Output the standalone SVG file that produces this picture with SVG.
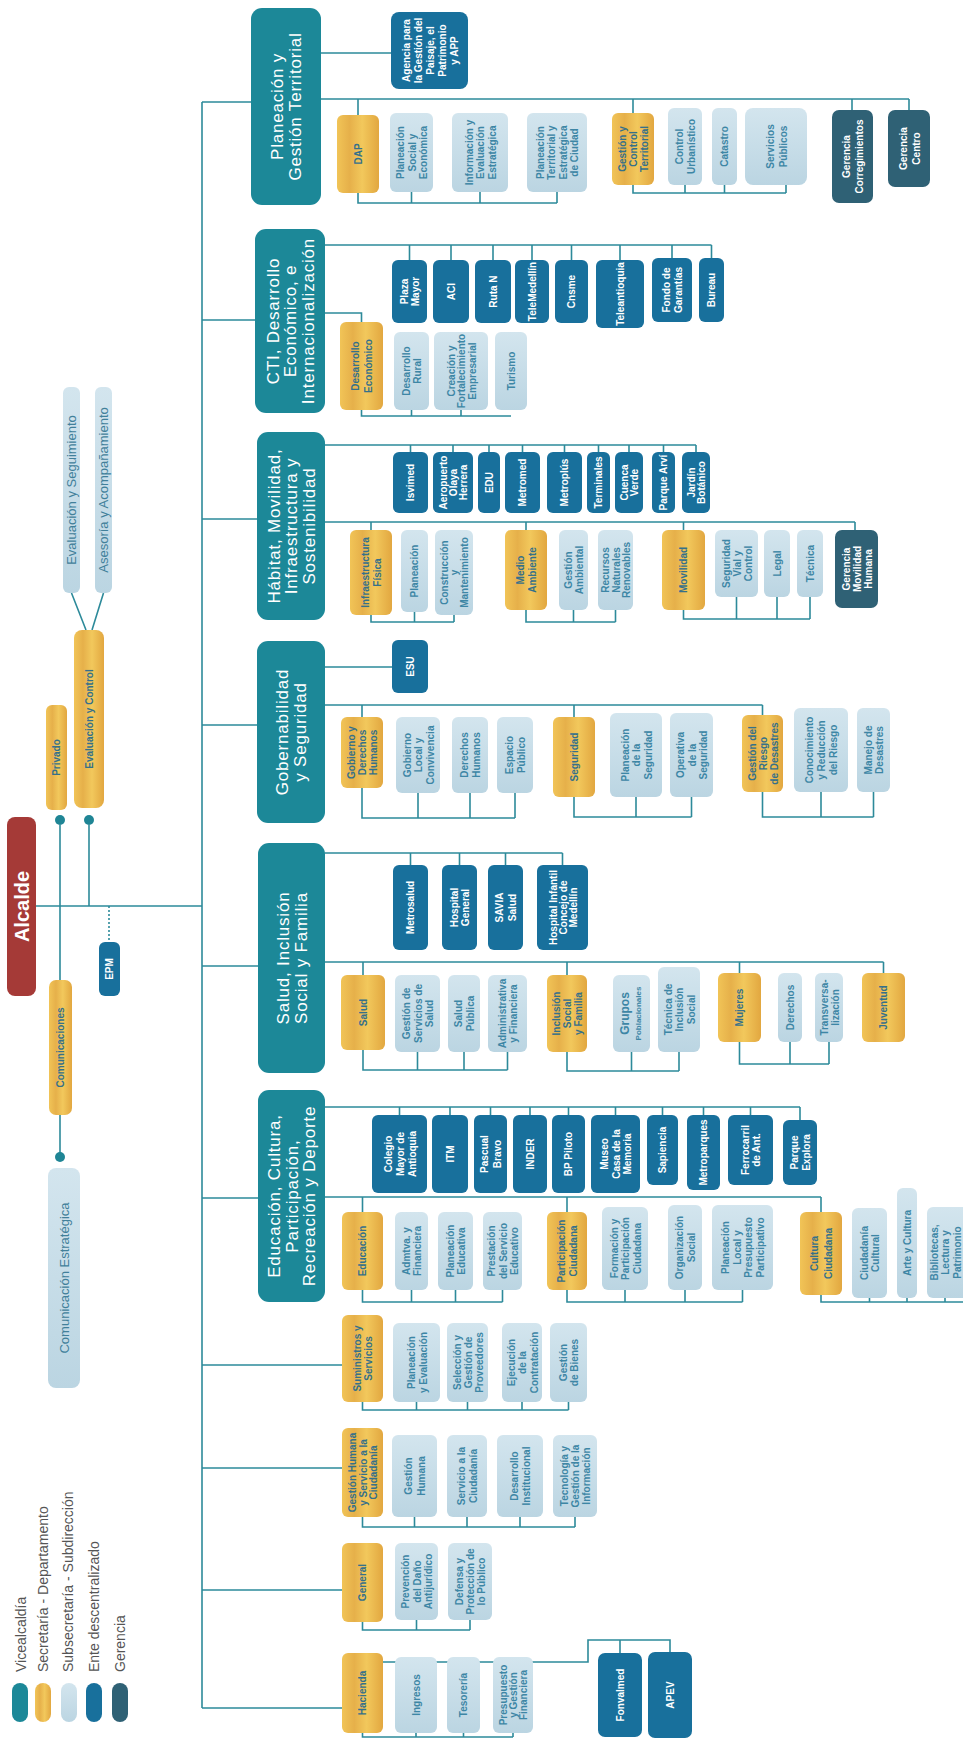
<svg xmlns="http://www.w3.org/2000/svg" width="963" height="1741" viewBox="0 0 963 1741">
<defs>
<linearGradient id="gold" x1="0" y1="0" x2="1" y2="0">
<stop offset="0" stop-color="#f1c457"/><stop offset="0.3" stop-color="#e6b04a"/><stop offset="0.6" stop-color="#f2c85c"/><stop offset="1" stop-color="#e2a740"/>
</linearGradient>
<linearGradient id="lt" x1="0" y1="0" x2="0" y2="1">
<stop offset="0" stop-color="#d3e5ee"/><stop offset="1" stop-color="#bbd5e2"/>
</linearGradient>
<style>
.ln{fill:none;stroke:#2d8a9a;stroke-width:1.6}
.v{fill:#1c8898}
.s{fill:url(#gold)}
.u{fill:url(#lt)}
.e{fill:#18709c}
.g{fill:#2f6175}
.dot{fill:#1f8595}
text{font-family:"Liberation Sans",Arial,Helvetica,sans-serif;text-anchor:middle;dominant-baseline:central}
tspan{dominant-baseline:central}
.vt{fill:#fff;font-size:17px;letter-spacing:0.8px}
.st{fill:#35708a;font-weight:bold;font-size:10px}
.ut{fill:#3d86a5;font-weight:bold;font-size:10px}
.et{fill:#fff;font-weight:bold;font-size:10px}
.lg{fill:#555;font-size:14px;text-anchor:start}
.tl{fill:#41809a;font-size:13px}
</style>
</defs>
<rect width="963" height="1741" fill="#fff"/>

<g id="connectors" class="ln">
<path d="M202 102V1708M202 102H251M202 320H255M202 519H257M202 725H257M202 966H258M202 1198H258M202 1365H342M202 1468H342M202 1590H342M202 1708H342"/>
<path d="M36 906H202M60 825V980M60 1115V1157M89 825V906M86 630L71.5 593M92 630L103.5 593"/>
<path d="M109 906V942" stroke-dasharray="2 2"/>
<path d="M320 53H391M320 99H909M358 99V115M633 99V113M852 99V110M909 99V110"/>
<path d="M358 193V203H557M411.5 192V203M480 192V203M557 192V203M633 185V193H786M685 185V193M724.5 185V193M786 185V193"/>
<path d="M325 245H711.5M409.5 245V260M451 245V260M493 245V260M532 245V260M571.5 245V260M620 245V260M672 245V258M711.5 245V258"/>
<path d="M325 313H361.5V322M361.5 410V416H511M411.5 410V416M461 410V416"/>
<path d="M325 445H696M410.5 445V452M453 445V452M489 445V452M522.5 445V452M564.5 445V452M598.5 445V452M629 445V452M663.5 445V452M696 445V452"/>
<path d="M325 522H855M371 522V530M526 522V530M683.5 522V530M855 522V530"/>
<path d="M371 615V622H454M414.5 612V622M454 615V622M526 610V622H615.5M573.5 610V622M615.5 610V622M683.5 610V619H810M736.5 597V619M777 597V619M810 597V619"/>
<path d="M325 667H392M325 705H762.5M362 705V717M574 705V717M762.5 705V715"/>
<path d="M362 788V818H515M418 793V818M470 793V818M515 793V818M574 797V817H691.5M636 797V817M691.5 797V817M762.5 792V817H873.5M821 792V817M873.5 792V817"/>
<path d="M325 853H562.5M410.5 853V865M459.5 853V865M505.5 853V865M562.5 853V865"/>
<path d="M325 962H883.5M363 962V975M567 962V975M739.5 962V973M883.5 962V973"/>
<path d="M363 1050V1070H507.5M417.5 1052V1070M464 1052V1070M507.5 1052V1070M567 1052V1071H679M631.5 1052V1071M679 1052V1071M739.5 1042V1064H829M790 1042V1064M829 1042V1064"/>
<path d="M325 1107H800M399.5 1107V1115M450 1107V1115M490.5 1107V1115M530 1107V1115M568.5 1107V1115M615.5 1107V1115M662.5 1107V1115M703.5 1107V1115M750.5 1107V1115M800 1107V1120"/>
<path d="M325 1197H821M362.5 1197V1212M567 1197V1212M821 1197V1212"/>
<path d="M362.5 1290V1302H502.5M411.5 1290V1302M455.5 1290V1302M502.5 1290V1302M567 1290V1302H742.5M625 1290V1302M685 1290V1302M742.5 1290V1302M821 1295V1302H965M869.5 1298V1302M907 1298V1302M945 1298V1302"/>
<path d="M362.5 1402V1410H568.5M416.5 1402V1410M467.5 1402V1410M522 1402V1410M568.5 1402V1410"/>
<path d="M362.5 1517V1527H575M414.5 1517V1527M467 1517V1527M520 1517V1527M575 1517V1527"/>
<path d="M362.5 1622V1630H470M416.5 1620V1630M470 1620V1630"/>
<path d="M362.5 1733V1737H513M416 1733V1737M463.5 1733V1737M513 1733V1737"/>
<path d="M383 1662H588V1640H670V1652M620 1640V1653"/>
</g>

<g id="legend">
<rect x="12" y="1683" width="16" height="39" rx="8" class="v"/>
<rect x="35" y="1683" width="16" height="39" rx="8" class="s"/>
<rect x="61" y="1683" width="16" height="39" rx="8" class="u"/>
<rect x="86" y="1683" width="16" height="39" rx="8" class="e"/>
<rect x="112" y="1683" width="16" height="39" rx="8" class="g"/>
<text class="lg" transform="rotate(-90 21 1672)" x="21" y="1672">Vicealcaldía</text>
<text class="lg" transform="rotate(-90 43 1672)" x="43" y="1672">Secretaría - Departamento</text>
<text class="lg" transform="rotate(-90 68 1672)" x="68" y="1672">Subsecretaría - Subdirección</text>
<text class="lg" transform="rotate(-90 94 1672)" x="94" y="1672">Ente descentralizado</text>
<text class="lg" transform="rotate(-90 120 1672)" x="120" y="1672">Gerencia</text>
</g>

<g id="n-alcalde"><rect x="7" y="817" width="29" height="179" rx="8" fill="#a53a37"/><text transform="rotate(-90 21.5 906.5)" x="21.5" y="906.5" fill="#fff" font-weight="bold" font-size="20">Alcalde</text></g>
<g id="n-privado"><rect class="s" x="46" y="705" width="21" height="105" rx="6"/><text class="st" transform="rotate(-90 56.5 757.5)" x="56.5" y="757.5" font-size="12">Privado</text></g>
<g id="n-evalcontrol"><rect class="s" x="74" y="630" width="30" height="178" rx="8"/><text class="st" transform="rotate(-90 89 719)" x="89" y="719" font-size="12.5">Evaluación y Control</text></g>
<g id="n-evalseg"><rect class="u" x="63" y="387" width="17" height="206" rx="6"/><text class="tl" transform="rotate(-90 71.5 490)" x="71.5" y="490">Evaluación y Seguimiento</text></g>
<g id="n-asesoria"><rect class="u" x="95" y="387" width="17" height="206" rx="6"/><text class="tl" transform="rotate(-90 103.5 490)" x="103.5" y="490">Asesoría y Acompañamiento</text></g>
<g id="n-comunicaciones"><rect class="s" x="49" y="980" width="23" height="135" rx="7"/><text class="st" transform="rotate(-90 60.5 1047.5)" x="60.5" y="1047.5" font-size="12">Comunicaciones</text></g>
<g id="n-comestrategica"><rect class="u" x="48" y="1168" width="32" height="220" rx="8"/><text class="tl" transform="rotate(-90 64 1278)" x="64" y="1278" font-size="13.5">Comunicación Estratégica</text></g>
<g id="n-epm"><rect class="e" x="99" y="942" width="21" height="54" rx="6"/><text class="et" transform="rotate(-90 109.5 969)" x="109.5" y="969">EPM</text></g>
<circle class="dot" cx="60" cy="820" r="5"/>
<circle class="dot" cx="89" cy="820" r="5"/>
<circle class="dot" cx="60" cy="1157" r="5"/>

<g id="v-planeacion"><rect class="v" x="251" y="8" width="70" height="197" rx="11"/><text class="vt" transform="rotate(-90 286 106.5)"><tspan x="286" y="97.5">Planeación y</tspan><tspan x="286" dy="18">Gestión Territorial</tspan></text></g>
<g id="v-cti"><rect class="v" x="255" y="229" width="70" height="184" rx="11"/><text class="vt" transform="rotate(-90 290 321)"><tspan x="290" y="303.5">CTI, Desarrollo</tspan><tspan x="290" dy="17.5">Económico, e</tspan><tspan x="290" dy="17.5">Internacionalización</tspan></text></g>
<g id="v-habitat"><rect class="v" x="257" y="432" width="68" height="188" rx="11"/><text class="vt" transform="rotate(-90 291 526)"><tspan x="291" y="508.5">Hábitat, Movilidad,</tspan><tspan x="291" dy="17.5">Infraestructura y</tspan><tspan x="291" dy="17.5">Sostenibilidad</tspan></text></g>
<g id="v-gobernabilidad"><rect class="v" x="257" y="641" width="68" height="182" rx="11"/><text class="vt" transform="rotate(-90 291 732)"><tspan x="291" y="723">Gobernabilidad</tspan><tspan x="291" dy="18">y Seguridad</tspan></text></g>
<g id="v-salud"><rect class="v" x="258" y="843" width="67" height="230" rx="11"/><text class="vt" transform="rotate(-90 291.5 958)"><tspan x="291.5" y="949">Salud, Inclusión</tspan><tspan x="291.5" dy="18">Social y Familia</tspan></text></g>
<g id="v-educacion"><rect class="v" x="258" y="1090" width="67" height="212" rx="11"/><text class="vt" transform="rotate(-90 291.5 1196)"><tspan x="291.5" y="1178.5">Educación, Cultura,</tspan><tspan x="291.5" dy="17.5">Participación,</tspan><tspan x="291.5" dy="17.5">Recreación y Deporte</tspan></text></g>

<!-- Section 1 -->
<g id="n-agencia"><rect class="e" x="391" y="12" width="77" height="77" rx="8"/><text class="et" font-size="9" transform="rotate(-90 429.5 50.5)"><tspan x="429.5" y="26.5">Agencia para</tspan><tspan x="429.5" dy="12">la Gestión del</tspan><tspan x="429.5" dy="12">Paisaje, el</tspan><tspan x="429.5" dy="12">Patrimonio</tspan><tspan x="429.5" dy="12">y APP</tspan></text></g>
<g id="n-dap"><rect class="s" x="337" y="115" width="42" height="78" rx="6"/><text class="st" font-size="14" transform="rotate(-90 358 154)" x="358" y="154">DAP</text></g>
<g id="n-plansocial"><rect class="u" x="390" y="113" width="43" height="79" rx="6"/><text class="ut" transform="rotate(-90 411.5 152.5)"><tspan x="411.5" y="141">Planeación</tspan><tspan x="411.5" dy="11.5">Social y</tspan><tspan x="411.5" dy="11.5">Económica</tspan></text></g>
<g id="n-informacion"><rect class="u" x="452" y="113" width="56" height="79" rx="6"/><text class="ut" transform="rotate(-90 480 152.5)"><tspan x="480" y="141">Información y</tspan><tspan x="480" dy="11.5">Evaluación</tspan><tspan x="480" dy="11.5">Estratégica</tspan></text></g>
<g id="n-planterritorial"><rect class="u" x="527" y="113" width="60" height="79" rx="6"/><text class="ut" transform="rotate(-90 557 152.5)"><tspan x="557" y="135.25">Planeación</tspan><tspan x="557" dy="11.5">Territorial y</tspan><tspan x="557" dy="11.5">Estratégica</tspan><tspan x="557" dy="11.5">de Ciudad</tspan></text></g>
<g id="n-gestioncontrol"><rect class="s" x="612" y="113" width="42" height="72" rx="6"/><text class="st" font-size="9.5" transform="rotate(-90 633 149)"><tspan x="633" y="138">Gestión y</tspan><tspan x="633" dy="11">Control</tspan><tspan x="633" dy="11">Territorial</tspan></text></g>
<g id="n-controlurb"><rect class="u" x="668" y="108" width="34" height="77" rx="6"/><text class="ut" transform="rotate(-90 685 146.5)"><tspan x="685" y="140.75">Control</tspan><tspan x="685" dy="11.5">Urbanístico</tspan></text></g>
<g id="n-catastro"><rect class="u" x="712" y="108" width="25" height="77" rx="6"/><text class="ut" transform="rotate(-90 724.5 146.5)" x="724.5" y="146.5">Catastro</text></g>
<g id="n-servpublicos"><rect class="u" x="745" y="108" width="62" height="77" rx="8"/><text class="ut" font-size="11" transform="rotate(-90 776 146.5)"><tspan x="776" y="140">Servicios</tspan><tspan x="776" dy="13">Públicos</tspan></text></g>
<g id="n-gercorreg"><rect class="g" x="832" y="110" width="41" height="93" rx="7"/><text class="et" font-size="10.5" transform="rotate(-90 852.5 156.5)"><tspan x="852.5" y="150">Gerencia</tspan><tspan x="852.5" dy="13">Corregimientos</tspan></text></g>
<g id="n-gercentro"><rect class="g" x="888" y="110" width="42" height="77" rx="7"/><text class="et" font-size="11" transform="rotate(-90 909 148.5)"><tspan x="909" y="142">Gerencia</tspan><tspan x="909" dy="13">Centro</tspan></text></g>

<!-- Section 2 -->
<g id="n-plazamayor"><rect class="e" x="392" y="260" width="35" height="63" rx="6"/><text class="et" transform="rotate(-90 409.5 291.5)"><tspan x="409.5" y="285.75">Plaza</tspan><tspan x="409.5" dy="11.5">Mayor</tspan></text></g>
<g id="n-aci"><rect class="e" x="433" y="260" width="36" height="63" rx="6"/><text class="et" transform="rotate(-90 451 291.5)" x="451" y="291.5">ACI</text></g>
<g id="n-rutan"><rect class="e" x="475" y="260" width="36" height="63" rx="6"/><text class="et" transform="rotate(-90 493 291.5)" x="493" y="291.5">Ruta N</text></g>
<g id="n-telemedellin"><rect class="e" x="515" y="260" width="34" height="63" rx="6"/><text class="et" font-size="8.5" transform="rotate(-90 532 291.5)" x="532" y="291.5">TeleMedellín</text></g>
<g id="n-cnsme"><rect class="e" x="555" y="260" width="33" height="63" rx="6"/><text class="et" transform="rotate(-90 571.5 291.5)" x="571.5" y="291.5">Cnsme</text></g>
<g id="n-teleantioquia"><rect class="e" x="596" y="260" width="48" height="68" rx="6"/><text class="et" font-size="8" transform="rotate(-90 620 294)" x="620" y="294">Teleantioquia</text></g>
<g id="n-fondogarantias"><rect class="e" x="652" y="258" width="40" height="64" rx="6"/><text class="et" transform="rotate(-90 672 290)"><tspan x="672" y="284.25">Fondo de</tspan><tspan x="672" dy="11.5">Garantías</tspan></text></g>
<g id="n-bureau"><rect class="e" x="699" y="258" width="25" height="64" rx="6"/><text class="et" transform="rotate(-90 711.5 290)" x="711.5" y="290">Bureau</text></g>
<g id="n-deseconomico"><rect class="s" x="340" y="322" width="43" height="88" rx="6"/><text class="st" font-size="11" transform="rotate(-90 361.5 366)"><tspan x="361.5" y="359.5">Desarrollo</tspan><tspan x="361.5" dy="13">Económico</tspan></text></g>
<g id="n-desrural"><rect class="u" x="394" y="332" width="35" height="78" rx="6"/><text class="ut" transform="rotate(-90 411.5 371)"><tspan x="411.5" y="365.25">Desarrollo</tspan><tspan x="411.5" dy="11.5">Rural</tspan></text></g>
<g id="n-creacion"><rect class="u" x="434" y="332" width="54" height="78" rx="6"/><text class="ut" font-size="8.5" transform="rotate(-90 461 371)"><tspan x="461" y="360.5">Creación y</tspan><tspan x="461" dy="10.5">Fortalecimiento</tspan><tspan x="461" dy="10.5">Empresarial</tspan></text></g>
<g id="n-turismo"><rect class="u" x="495" y="332" width="32" height="78" rx="6"/><text class="ut" transform="rotate(-90 511 371)" x="511" y="371">Turismo</text></g>

<!-- Section 3 -->
<g id="n-isvimed"><rect class="e" x="393" y="452" width="35" height="61" rx="6"/><text class="et" transform="rotate(-90 410.5 482.5)" x="410.5" y="482.5">Isvimed</text></g>
<g id="n-aeropuerto"><rect class="e" x="433" y="452" width="40" height="61" rx="6"/><text class="et" font-size="8.5" transform="rotate(-90 453 482.5)"><tspan x="453" y="472.5">Aeropuerto</tspan><tspan x="453" dy="10">Olaya</tspan><tspan x="453" dy="10">Herrera</tspan></text></g>
<g id="n-edu"><rect class="e" x="478" y="452" width="22" height="61" rx="6"/><text class="et" transform="rotate(-90 489 482.5)" x="489" y="482.5">EDU</text></g>
<g id="n-metromed"><rect class="e" x="505" y="452" width="35" height="61" rx="6"/><text class="et" font-size="9" transform="rotate(-90 522.5 482.5)" x="522.5" y="482.5">Metromed</text></g>
<g id="n-metroplus"><rect class="e" x="547" y="452" width="35" height="61" rx="6"/><text class="et" font-size="9" transform="rotate(-90 564.5 482.5)" x="564.5" y="482.5">Metroplús</text></g>
<g id="n-terminales"><rect class="e" x="587" y="452" width="23" height="61" rx="6"/><text class="et" font-size="8" transform="rotate(-90 598.5 482.5)" x="598.5" y="482.5">Terminales</text></g>
<g id="n-cuencaverde"><rect class="e" x="615" y="452" width="28" height="61" rx="6"/><text class="et" font-size="9" transform="rotate(-90 629 482.5)"><tspan x="629" y="477.25">Cuenca</tspan><tspan x="629" dy="10.5">Verde</tspan></text></g>
<g id="n-parquearvi"><rect class="e" x="652" y="452" width="23" height="61" rx="6"/><text class="et" font-size="8" transform="rotate(-90 663.5 482.5)" x="663.5" y="482.5">Parque Arví</text></g>
<g id="n-jardin"><rect class="e" x="682" y="452" width="28" height="61" rx="6"/><text class="et" font-size="9" transform="rotate(-90 696 482.5)"><tspan x="696" y="477.25">Jardín</tspan><tspan x="696" dy="10.5">Botánico</tspan></text></g>
<g id="n-infraestructura"><rect class="s" x="350" y="530" width="42" height="85" rx="6"/><text class="st" font-size="9" transform="rotate(-90 371 572.5)"><tspan x="371" y="566.5">Infraestructura</tspan><tspan x="371" dy="12">Física</tspan></text></g>
<g id="n-planeacion3"><rect class="u" x="401" y="530" width="27" height="82" rx="6"/><text class="ut" transform="rotate(-90 414.5 571)" x="414.5" y="571">Planeación</text></g>
<g id="n-construccion"><rect class="u" x="435" y="530" width="38" height="85" rx="6"/><text class="ut" font-size="8" transform="rotate(-90 454 572.5)"><tspan x="454" y="562.5">Construcción</tspan><tspan x="454" dy="10">y</tspan><tspan x="454" dy="10">Mantenimiento</tspan></text></g>
<g id="n-medioambiente"><rect class="s" x="505" y="530" width="42" height="80" rx="6"/><text class="st" transform="rotate(-90 526 570)"><tspan x="526" y="564">Medio</tspan><tspan x="526" dy="12">Ambiente</tspan></text></g>
<g id="n-gestionambiental"><rect class="u" x="559" y="530" width="29" height="80" rx="6"/><text class="ut" transform="rotate(-90 573.5 570)"><tspan x="573.5" y="564.5">Gestión</tspan><tspan x="573.5" dy="11">Ambiental</tspan></text></g>
<g id="n-recursos"><rect class="u" x="598" y="530" width="35" height="80" rx="6"/><text class="ut" font-size="9.5" transform="rotate(-90 615.5 570)"><tspan x="615.5" y="559.5">Recursos</tspan><tspan x="615.5" dy="10.5">Naturales</tspan><tspan x="615.5" dy="10.5">Renovables</tspan></text></g>
<g id="n-movilidad"><rect class="s" x="662" y="530" width="43" height="80" rx="6"/><text class="st" font-size="12" transform="rotate(-90 683.5 570)" x="683.5" y="570">Movilidad</text></g>
<g id="n-segvial"><rect class="u" x="715" y="530" width="43" height="67" rx="6"/><text class="ut" transform="rotate(-90 736.5 563.5)"><tspan x="736.5" y="552.5">Seguridad</tspan><tspan x="736.5" dy="11">Vial y</tspan><tspan x="736.5" dy="11">Control</tspan></text></g>
<g id="n-legal"><rect class="u" x="764" y="530" width="26" height="67" rx="6"/><text class="ut" font-size="12" transform="rotate(-90 777 563.5)" x="777" y="563.5">Legal</text></g>
<g id="n-tecnica"><rect class="u" x="797" y="530" width="26" height="67" rx="6"/><text class="ut" font-size="12" transform="rotate(-90 810 563.5)" x="810" y="563.5">Técnica</text></g>
<g id="n-germovilidad"><rect class="g" x="835" y="530" width="43" height="78" rx="7"/><text class="et" transform="rotate(-90 856.5 569)"><tspan x="856.5" y="558">Gerencia</tspan><tspan x="856.5" dy="11">Movilidad</tspan><tspan x="856.5" dy="11">Humana</tspan></text></g>

<!-- Section 4 -->
<g id="n-esu"><rect class="e" x="392" y="640" width="36" height="53" rx="6"/><text class="et" font-size="11" transform="rotate(-90 410 666.5)" x="410" y="666.5">ESU</text></g>
<g id="n-gobiernoddhh"><rect class="s" x="341" y="717" width="42" height="71" rx="6"/><text class="st" font-size="9.5" transform="rotate(-90 362 752.5)"><tspan x="362" y="741.5">Gobierno y</tspan><tspan x="362" dy="11">Derechos</tspan><tspan x="362" dy="11">Humanos</tspan></text></g>
<g id="n-gobiernolocal"><rect class="u" x="396" y="717" width="44" height="76" rx="6"/><text class="ut" transform="rotate(-90 418 755)"><tspan x="418" y="743.5">Gobierno</tspan><tspan x="418" dy="11.5">Local y</tspan><tspan x="418" dy="11.5">Convivencia</tspan></text></g>
<g id="n-derechoshumanos"><rect class="u" x="452" y="717" width="36" height="76" rx="6"/><text class="ut" transform="rotate(-90 470 755)"><tspan x="470" y="749.25">Derechos</tspan><tspan x="470" dy="11.5">Humanos</tspan></text></g>
<g id="n-espaciopublico"><rect class="u" x="497" y="717" width="36" height="76" rx="6"/><text class="ut" transform="rotate(-90 515 755)"><tspan x="515" y="749.25">Espacio</tspan><tspan x="515" dy="11.5">Público</tspan></text></g>
<g id="n-seguridad"><rect class="s" x="553" y="717" width="42" height="80" rx="6"/><text class="st" font-size="12" transform="rotate(-90 574 757)" x="574" y="757">Seguridad</text></g>
<g id="n-planseguridad"><rect class="u" x="610" y="713" width="52" height="84" rx="6"/><text class="ut" transform="rotate(-90 636 755)"><tspan x="636" y="743.5">Planeación</tspan><tspan x="636" dy="11.5">de la</tspan><tspan x="636" dy="11.5">Seguridad</tspan></text></g>
<g id="n-operativa"><rect class="u" x="670" y="713" width="43" height="84" rx="6"/><text class="ut" transform="rotate(-90 691.5 755)"><tspan x="691.5" y="743.5">Operativa</tspan><tspan x="691.5" dy="11.5">de la</tspan><tspan x="691.5" dy="11.5">Seguridad</tspan></text></g>
<g id="n-riesgo"><rect class="s" x="742" y="715" width="41" height="77" rx="6"/><text class="st" font-size="9" transform="rotate(-90 762.5 753.5)"><tspan x="762.5" y="742.5">Gestión del</tspan><tspan x="762.5" dy="11">Riesgo</tspan><tspan x="762.5" dy="11">de Desastres</tspan></text></g>
<g id="n-conocimiento"><rect class="u" x="794" y="708" width="54" height="84" rx="6"/><text class="ut" font-size="10.5" transform="rotate(-90 821 750)"><tspan x="821" y="738">Conocimiento</tspan><tspan x="821" dy="12">y Reducción</tspan><tspan x="821" dy="12">del Riesgo</tspan></text></g>
<g id="n-manejo"><rect class="u" x="857" y="708" width="33" height="84" rx="6"/><text class="ut" transform="rotate(-90 873.5 750)"><tspan x="873.5" y="744.25">Manejo de</tspan><tspan x="873.5" dy="11.5">Desastres</tspan></text></g>

<!-- Section 5 -->
<g id="n-metrosalud"><rect class="e" x="393" y="865" width="35" height="85" rx="6"/><text class="et" font-size="9" transform="rotate(-90 410.5 907.5)" x="410.5" y="907.5">Metrosalud</text></g>
<g id="n-hospgeneral"><rect class="e" x="442" y="865" width="35" height="85" rx="6"/><text class="et" transform="rotate(-90 459.5 907.5)"><tspan x="459.5" y="901.75">Hospital</tspan><tspan x="459.5" dy="11.5">General</tspan></text></g>
<g id="n-savia"><rect class="e" x="488" y="865" width="35" height="85" rx="6"/><text class="et" font-size="11" transform="rotate(-90 505.5 907.5)"><tspan x="505.5" y="901.25">SAVIA</tspan><tspan x="505.5" dy="12.5">Salud</tspan></text></g>
<g id="n-hospinfantil"><rect class="e" x="537" y="865" width="51" height="85" rx="6"/><text class="et" font-size="8" transform="rotate(-90 562.5 907.5)"><tspan x="562.5" y="897.5">Hospital Infantil</tspan><tspan x="562.5" dy="10">Concejo de</tspan><tspan x="562.5" dy="10">Medellín</tspan></text></g>
<g id="n-salud"><rect class="s" x="341" y="975" width="44" height="75" rx="6"/><text class="st" font-size="12" transform="rotate(-90 363 1012.5)" x="363" y="1012.5">Salud</text></g>
<g id="n-gestionservicios"><rect class="u" x="395" y="975" width="45" height="77" rx="6"/><text class="ut" transform="rotate(-90 417.5 1013.5)"><tspan x="417.5" y="1002">Gestión de</tspan><tspan x="417.5" dy="11.5">Servicios de</tspan><tspan x="417.5" dy="11.5">Salud</tspan></text></g>
<g id="n-saludpublica"><rect class="u" x="448" y="975" width="32" height="77" rx="6"/><text class="ut" transform="rotate(-90 464 1013.5)"><tspan x="464" y="1007.75">Salud</tspan><tspan x="464" dy="11.5">Pública</tspan></text></g>
<g id="n-administrativa"><rect class="u" x="488" y="975" width="39" height="77" rx="6"/><text class="ut" font-size="9" transform="rotate(-90 507.5 1013.5)"><tspan x="507.5" y="1008">Administrativa</tspan><tspan x="507.5" dy="11">y Financiera</tspan></text></g>
<g id="n-inclusion"><rect class="s" x="547" y="975" width="40" height="77" rx="6"/><text class="st" transform="rotate(-90 567 1013.5)"><tspan x="567" y="1002.5">Inclusión</tspan><tspan x="567" dy="11">Social</tspan><tspan x="567" dy="11">y Familia</tspan></text></g>
<g id="n-grupos"><rect class="u" x="613" y="975" width="37" height="77" rx="6"/><text class="ut" transform="rotate(-90 631.5 1013.5)"><tspan x="631.5" y="1007" font-size="12">Grupos</tspan><tspan x="631.5" dy="13" font-size="8">Poblacionales</tspan></text></g>
<g id="n-tecnicainclusion"><rect class="u" x="658" y="967" width="42" height="85" rx="6"/><text class="ut" transform="rotate(-90 679 1009.5)"><tspan x="679" y="998">Técnica de</tspan><tspan x="679" dy="11.5">Inclusión</tspan><tspan x="679" dy="11.5">Social</tspan></text></g>
<g id="n-mujeres"><rect class="s" x="718" y="973" width="43" height="69" rx="6"/><text class="st" font-size="12" transform="rotate(-90 739.5 1007.5)" x="739.5" y="1007.5">Mujeres</text></g>
<g id="n-derechos"><rect class="u" x="778" y="973" width="24" height="69" rx="6"/><text class="ut" transform="rotate(-90 790 1007.5)" x="790" y="1007.5">Derechos</text></g>
<g id="n-transversalizacion"><rect class="u" x="815" y="973" width="28" height="69" rx="6"/><text class="ut" transform="rotate(-90 829 1007.5)"><tspan x="829" y="1002">Transversa-</tspan><tspan x="829" dy="11">lización</tspan></text></g>
<g id="n-juventud"><rect class="s" x="862" y="973" width="43" height="69" rx="6"/><text class="st" font-size="12" transform="rotate(-90 883.5 1007.5)" x="883.5" y="1007.5">Juventud</text></g>

<!-- Section 6 -->
<g id="n-colegiomayor"><rect class="e" x="372" y="1115" width="55" height="78" rx="6"/><text class="et" font-size="10.5" transform="rotate(-90 399.5 1154)"><tspan x="399.5" y="1142">Colegio</tspan><tspan x="399.5" dy="12">Mayor de</tspan><tspan x="399.5" dy="12">Antioquia</tspan></text></g>
<g id="n-itm"><rect class="e" x="432" y="1115" width="36" height="78" rx="6"/><text class="et" transform="rotate(-90 450 1154)" x="450" y="1154">ITM</text></g>
<g id="n-pascual"><rect class="e" x="474" y="1115" width="33" height="78" rx="6"/><text class="et" font-size="11" transform="rotate(-90 490.5 1154)"><tspan x="490.5" y="1147.75">Pascual</tspan><tspan x="490.5" dy="12.5">Bravo</tspan></text></g>
<g id="n-inder"><rect class="e" x="513" y="1115" width="34" height="78" rx="6"/><text class="et" transform="rotate(-90 530 1154)" x="530" y="1154">INDER</text></g>
<g id="n-bppiloto"><rect class="e" x="552" y="1115" width="33" height="78" rx="6"/><text class="et" transform="rotate(-90 568.5 1154)" x="568.5" y="1154">BP Piloto</text></g>
<g id="n-museo"><rect class="e" x="591" y="1115" width="49" height="78" rx="6"/><text class="et" transform="rotate(-90 615.5 1154)"><tspan x="615.5" y="1142.5">Museo</tspan><tspan x="615.5" dy="11.5">Casa de la</tspan><tspan x="615.5" dy="11.5">Memoria</tspan></text></g>
<g id="n-sapiencia"><rect class="e" x="647" y="1115" width="31" height="70" rx="6"/><text class="et" transform="rotate(-90 662.5 1150)" x="662.5" y="1150">Sapiencia</text></g>
<g id="n-metroparques"><rect class="e" x="687" y="1115" width="33" height="75" rx="6"/><text class="et" font-size="8" transform="rotate(-90 703.5 1152.5)" x="703.5" y="1152.5">Metroparques</text></g>
<g id="n-ferrocarril"><rect class="e" x="728" y="1115" width="45" height="70" rx="6"/><text class="et" transform="rotate(-90 750.5 1150)"><tspan x="750.5" y="1144.25">Ferrocarril</tspan><tspan x="750.5" dy="11.5">de Ant.</tspan></text></g>
<g id="n-explora"><rect class="e" x="783" y="1120" width="34" height="65" rx="6"/><text class="et" transform="rotate(-90 800 1152.5)"><tspan x="800" y="1146.75">Parque</tspan><tspan x="800" dy="11.5">Explora</tspan></text></g>
<g id="n-educacion"><rect class="s" x="342" y="1212" width="41" height="78" rx="6"/><text class="st" font-size="11" transform="rotate(-90 362.5 1251)" x="362.5" y="1251">Educación</text></g>
<g id="n-admtva"><rect class="u" x="395" y="1212" width="33" height="78" rx="6"/><text class="ut" transform="rotate(-90 411.5 1251)"><tspan x="411.5" y="1245.25">Admtva. y</tspan><tspan x="411.5" dy="11.5">Financiera</tspan></text></g>
<g id="n-planeducativa"><rect class="u" x="438" y="1212" width="35" height="78" rx="6"/><text class="ut" transform="rotate(-90 455.5 1251)"><tspan x="455.5" y="1245.25">Planeación</tspan><tspan x="455.5" dy="11.5">Educativa</tspan></text></g>
<g id="n-prestacion"><rect class="u" x="483" y="1212" width="39" height="78" rx="6"/><text class="ut" transform="rotate(-90 502.5 1251)"><tspan x="502.5" y="1239.5">Prestación</tspan><tspan x="502.5" dy="11.5">del Servicio</tspan><tspan x="502.5" dy="11.5">Educativo</tspan></text></g>
<g id="n-participacion"><rect class="s" x="547" y="1212" width="40" height="78" rx="6"/><text class="st" font-size="9.5" transform="rotate(-90 567 1251)"><tspan x="567" y="1245">Participación</tspan><tspan x="567" dy="12">Ciudadana</tspan></text></g>
<g id="n-formacion"><rect class="u" x="602" y="1207" width="46" height="83" rx="6"/><text class="ut" transform="rotate(-90 625 1248.5)"><tspan x="625" y="1237">Formación y</tspan><tspan x="625" dy="11.5">Participación</tspan><tspan x="625" dy="11.5">Ciudadana</tspan></text></g>
<g id="n-organizacion"><rect class="u" x="668" y="1205" width="34" height="85" rx="6"/><text class="ut" transform="rotate(-90 685 1247.5)"><tspan x="685" y="1241.75">Organización</tspan><tspan x="685" dy="11.5">Social</tspan></text></g>
<g id="n-planlocal"><rect class="u" x="712" y="1205" width="61" height="85" rx="6"/><text class="ut" transform="rotate(-90 742.5 1247.5)"><tspan x="742.5" y="1230.25">Planeación</tspan><tspan x="742.5" dy="11.5">Local y</tspan><tspan x="742.5" dy="11.5">Presupuesto</tspan><tspan x="742.5" dy="11.5">Participativo</tspan></text></g>
<g id="n-cultura"><rect class="s" x="800" y="1212" width="42" height="83" rx="6"/><text class="st" font-size="11" transform="rotate(-90 821 1253.5)"><tspan x="821" y="1246.5">Cultura</tspan><tspan x="821" dy="14">Ciudadana</tspan></text></g>
<g id="n-ciudadaniacultural"><rect class="u" x="852" y="1208" width="35" height="90" rx="6"/><text class="ut" transform="rotate(-90 869.5 1253)"><tspan x="869.5" y="1247.25">Ciudadanía</tspan><tspan x="869.5" dy="11.5">Cultural</tspan></text></g>
<g id="n-arte"><rect class="u" x="897" y="1188" width="20" height="110" rx="6"/><text class="ut" transform="rotate(-90 907 1243)" x="907" y="1243">Arte y Cultura</text></g>
<g id="n-bibliotecas"><rect class="u" x="927" y="1207" width="42" height="91" rx="6"/><text class="ut" transform="rotate(-90 945 1252.5)"><tspan x="945" y="1241">Bibliotecas,</tspan><tspan x="945" dy="11.5">Lectura y</tspan><tspan x="945" dy="11.5">Patrimonio</tspan></text></g>

<!-- Section 7 -->
<g id="n-suministros"><rect class="s" x="342" y="1315" width="41" height="87" rx="6"/><text class="st" font-size="9" transform="rotate(-90 362.5 1358.5)"><tspan x="362.5" y="1352.75">Suministros y</tspan><tspan x="362.5" dy="11.5">Servicios</tspan></text></g>
<g id="n-planevaluacion"><rect class="u" x="393" y="1323" width="47" height="79" rx="6"/><text class="ut" font-size="10.5" transform="rotate(-90 416.5 1362.5)"><tspan x="416.5" y="1356.5">Planeación</tspan><tspan x="416.5" dy="12">y Evaluación</tspan></text></g>
<g id="n-seleccion"><rect class="u" x="447" y="1323" width="41" height="79" rx="6"/><text class="ut" font-size="9.5" transform="rotate(-90 467.5 1362.5)"><tspan x="467.5" y="1351.5">Selección y</tspan><tspan x="467.5" dy="11">Gestión de</tspan><tspan x="467.5" dy="11">Proveedores</tspan></text></g>
<g id="n-ejecucion"><rect class="u" x="502" y="1323" width="40" height="79" rx="6"/><text class="ut" transform="rotate(-90 522 1362.5)"><tspan x="522" y="1351">Ejecución</tspan><tspan x="522" dy="11.5">de la</tspan><tspan x="522" dy="11.5">Contratación</tspan></text></g>
<g id="n-gestionbienes"><rect class="u" x="550" y="1323" width="37" height="79" rx="6"/><text class="ut" transform="rotate(-90 568.5 1362.5)"><tspan x="568.5" y="1356.75">Gestión</tspan><tspan x="568.5" dy="11.5">de Bienes</tspan></text></g>
<g id="n-gestionhumanasec"><rect class="s" x="342" y="1428" width="41" height="89" rx="6"/><text class="st" font-size="8" transform="rotate(-90 362.5 1472.5)"><tspan x="362.5" y="1462">Gestión Humana</tspan><tspan x="362.5" dy="10.5">y Servicio a la</tspan><tspan x="362.5" dy="10.5">Ciudadanía</tspan></text></g>
<g id="n-gestionhumana"><rect class="u" x="392" y="1435" width="45" height="82" rx="6"/><text class="ut" font-size="11" transform="rotate(-90 414.5 1476)"><tspan x="414.5" y="1469.75">Gestión</tspan><tspan x="414.5" dy="12.5">Humana</tspan></text></g>
<g id="n-servicioalaciudadania"><rect class="u" x="447" y="1435" width="40" height="82" rx="6"/><text class="ut" transform="rotate(-90 467 1476)"><tspan x="467" y="1470.25">Servicio a la</tspan><tspan x="467" dy="11.5">Ciudadanía</tspan></text></g>
<g id="n-desinstitucional"><rect class="u" x="497" y="1435" width="46" height="82" rx="6"/><text class="ut" transform="rotate(-90 520 1476)"><tspan x="520" y="1470.25">Desarrollo</tspan><tspan x="520" dy="11.5">Institucional</tspan></text></g>
<g id="n-tecnologia"><rect class="u" x="553" y="1435" width="44" height="82" rx="6"/><text class="ut" font-size="9.5" transform="rotate(-90 575 1476)"><tspan x="575" y="1465">Tecnología y</tspan><tspan x="575" dy="11">Gestión de la</tspan><tspan x="575" dy="11">Información</tspan></text></g>
<g id="n-general"><rect class="s" x="342" y="1543" width="41" height="79" rx="6"/><text class="st" font-size="12" transform="rotate(-90 362.5 1582.5)" x="362.5" y="1582.5">General</text></g>
<g id="n-prevencion"><rect class="u" x="395" y="1543" width="43" height="77" rx="6"/><text class="ut" transform="rotate(-90 416.5 1581.5)"><tspan x="416.5" y="1570">Prevención</tspan><tspan x="416.5" dy="11.5">del Daño</tspan><tspan x="416.5" dy="11.5">Antijurídico</tspan></text></g>
<g id="n-defensa"><rect class="u" x="448" y="1543" width="44" height="77" rx="6"/><text class="ut" font-size="9.5" transform="rotate(-90 470 1581.5)"><tspan x="470" y="1570.5">Defensa y</tspan><tspan x="470" dy="11">Protección de</tspan><tspan x="470" dy="11">lo Público</tspan></text></g>
<g id="n-hacienda"><rect class="s" x="342" y="1653" width="41" height="80" rx="6"/><text class="st" font-size="12" transform="rotate(-90 362.5 1693)" x="362.5" y="1693">Hacienda</text></g>
<g id="n-ingresos"><rect class="u" x="395" y="1657" width="42" height="76" rx="6"/><text class="ut" font-size="12" transform="rotate(-90 416 1695)" x="416" y="1695">Ingresos</text></g>
<g id="n-tesoreria"><rect class="u" x="447" y="1657" width="33" height="76" rx="6"/><text class="ut" font-size="11" transform="rotate(-90 463.5 1695)" x="463.5" y="1695">Tesorería</text></g>
<g id="n-presupuesto"><rect class="u" x="493" y="1657" width="40" height="76" rx="6"/><text class="ut" font-size="8.5" transform="rotate(-90 513 1695)"><tspan x="513" y="1685">Presupuesto</tspan><tspan x="513" dy="10">y Gestión</tspan><tspan x="513" dy="10">Financiera</tspan></text></g>
<g id="n-fonvalmed"><rect class="e" x="598" y="1653" width="44" height="84" rx="7"/><text class="et" font-size="13" transform="rotate(-90 620 1695)" x="620" y="1695">Fonvalmed</text></g>
<g id="n-apev"><rect class="e" x="648" y="1652" width="44" height="86" rx="7"/><text class="et" font-size="13" transform="rotate(-90 670 1695)" x="670" y="1695">APEV</text></g>
</svg>
